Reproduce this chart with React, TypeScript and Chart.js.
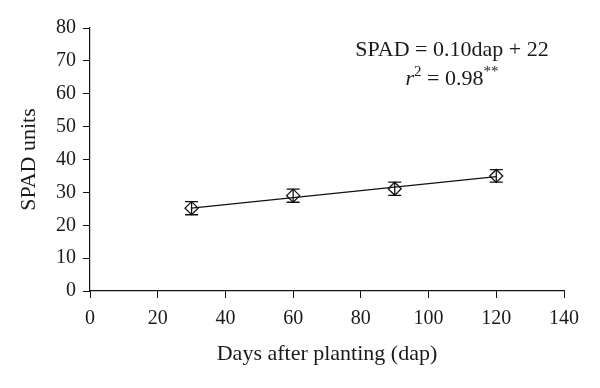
import React, { useEffect, useRef } from "react";
import { Chart, registerables } from "chart.js";

Chart.register(...registerables);

const days = [30, 60, 90, 120];
const spad = [25.2, 29.0, 31.1, 35.0];
const spadErr = [2.0, 2.0, 2.0, 1.9];
const trendX = [30, 120];
const trendY = [25.2, 34.8];
const xTicks = [0, 20, 40, 60, 80, 100, 120, 140];
const yTicks = [0, 10, 20, 30, 40, 50, 60, 70, 80];

const FONT = "'Liberation Serif', 'DejaVu Serif', serif";

const extras = {
  id: "extras",
  afterDatasetsDraw(chart: any) {
    const ctx = chart.ctx;
    const xs = chart.scales.x;
    const ys = chart.scales.y;
    ctx.save();
    ctx.strokeStyle = "#111";
    ctx.lineWidth = 1.3;
    days.forEach((d, i) => {
      const px = xs.getPixelForValue(d);
      const top = ys.getPixelForValue(spad[i] + spadErr[i]);
      const bot = ys.getPixelForValue(spad[i] - spadErr[i]);
      const w = 6.5;
      ctx.beginPath();
      ctx.moveTo(px, top);
      ctx.lineTo(px, bot);
      ctx.moveTo(px - w, top);
      ctx.lineTo(px + w, top);
      ctx.moveTo(px - w, bot);
      ctx.lineTo(px + w, bot);
      ctx.stroke();
    });
    // annotation
    ctx.fillStyle = "#1a1a1a";
    ctx.textBaseline = "alphabetic";
    ctx.font = `22px ${FONT}`;
    const line1 = "SPAD = 0.10dap + 22";
    const cx = 452;
    const w1 = ctx.measureText(line1).width;
    ctx.textAlign = "left";
    ctx.fillText(line1, cx - w1 / 2, 56);
    // line 2: r^2 = 0.98**
    const parts: { t: string; font: string; dy: number }[] = [
      { t: "r", font: `italic 22px ${FONT}`, dy: 0 },
      { t: "2", font: `15px ${FONT}`, dy: -9 },
      { t: " = 0.98", font: `22px ${FONT}`, dy: 0 },
      { t: "**", font: `15px ${FONT}`, dy: -9 },
    ];
    let total = 0;
    parts.forEach((p) => {
      ctx.font = p.font;
      total += ctx.measureText(p.t).width;
    });
    let x = cx - total / 2;
    parts.forEach((p) => {
      ctx.font = p.font;
      ctx.fillText(p.t, x, 85 + p.dy);
      x += ctx.measureText(p.t).width;
    });
    ctx.restore();
  },
};

export default function App() {
  const ref = useRef<HTMLCanvasElement>(null);
  useEffect(() => {
    document.body.style.margin = "0";
    const chart = new Chart(ref.current as HTMLCanvasElement, {
      type: "scatter",
      data: {
        datasets: [
          {
            type: "line",
            data: trendX.map((x, i) => ({ x, y: trendY[i] })),
            borderColor: "#111",
            borderWidth: 1.3,
            pointRadius: 0,
            fill: false,
          } as any,
          {
            data: days.map((x, i) => ({ x, y: spad[i] })),
            pointStyle: "rectRot",
            pointRadius: 6.5,
            pointBackgroundColor: "#fff",
            pointBorderColor: "#111",
            pointBorderWidth: 1.3,
          },
        ],
      },
      options: {
        animation: false,
        responsive: false,
        maintainAspectRatio: false,
        layout: { padding: { left: 0, right: 36, top: 28, bottom: 0 } },
        plugins: { legend: { display: false }, tooltip: { enabled: false } },
        scales: {
          x: {
            type: "linear",
            min: 0,
            max: 140,
            afterBuildTicks: (s: any) => {
              s.ticks = xTicks.map((v) => ({ value: v }));
            },
            afterFit: (s: any) => {
              s.height = 97;
            },
            grid: { drawOnChartArea: false, drawTicks: true, tickLength: 7, color: "#111" },
            border: { display: true, color: "#111", width: 1.2 },
            ticks: { color: "#1a1a1a", font: { family: FONT, size: 20 }, padding: 9, maxRotation: 0 },
            title: {
              display: true,
              text: "Days after planting (dap)",
              color: "#1a1a1a",
              font: { family: FONT, size: 22 },
              padding: { top: 4, bottom: 21 },
            },
          },
          y: {
            type: "linear",
            min: 0,
            max: 80,
            afterBuildTicks: (s: any) => {
              s.ticks = yTicks.map((v) => ({ value: v }));
            },
            afterFit: (s: any) => {
              s.width = 90;
            },
            grid: { drawOnChartArea: false, drawTicks: true, tickLength: 7, color: "#111" },
            border: { display: true, color: "#111", width: 1.2 },
            ticks: { color: "#1a1a1a", font: { family: FONT, size: 20 }, padding: 7 },
            title: {
              display: true,
              text: "SPAD units",
              color: "#1a1a1a",
              font: { family: FONT, size: 22 },
              padding: { top: 16, bottom: 0 },
            },
          },
        },
      },
      plugins: [extras],
    });
    return () => chart.destroy();
  }, []);
  return (
    <div style={{ width: 600, height: 388 }}>
      <canvas ref={ref} width={600} height={388} style={{ display: "block" }} />
    </div>
  );
}
